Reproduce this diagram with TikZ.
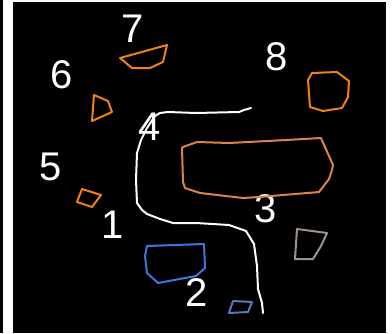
\documentclass[tikz,border=0pt]{standalone}
\usepackage{fontspec}
\setmainfont{Liberation Sans}
\definecolor{brorange}{HTML}{F0820F}
\definecolor{rectorange}{HTML}{D9854A}
\definecolor{bblue}{HTML}{3A78E0}
\definecolor{sblue}{HTML}{5A78C0}
\definecolor{sgray}{HTML}{A09088}
\begin{document}
\begin{tikzpicture}[x=1pt,y=-1pt,
  lbl/.style={text=white,font=\fontsize{40}{40}\selectfont,inner sep=0pt},
  shp/.style={line width=2pt,line join=round}]
\useasboundingbox (0,0) rectangle (392,333);
\fill[white] (0,0) rectangle (392,333);
\fill[black] (13,2) rectangle (386,333);
\fill[black] (0,0) rectangle (3,333);
% labels
\node[lbl] (n7) at (133,29) {7};
\node[lbl] (n6) at (62,75) {6};
\node[lbl] (n8) at (277,57) {8};
\node[lbl] (n4) at (150,127) {4};
\node[lbl] (n5) at (51,167) {5};
\node[lbl] (n1) at (113,225) {1};
\node[lbl] (n3) at (266,209) {3};
\node[lbl] (n2) at (197,293) {2};
% road
\draw[shp,white,line cap=round] (251,108) -- (244,110) -- (239,112) -- (196,113) -- (168,112) -- (160,113) -- (155,116) -- (147,128) -- (141,140) -- (137,153) -- (136,180) -- (137,203) -- (142,210) -- (147,214) -- (160,219) -- (173,223) -- (196,223) -- (229,225) -- (246,231) -- (254,244) -- (257,266) -- (258,289) -- (262,303) -- (263,313);
% shapes
\draw[shp,brorange] (120,58) -- (167,45) -- (163,62) -- (150,68) -- (132,68) -- cycle;
\draw[shp,brorange] (94,95) -- (108,101) -- (112,112) -- (92,121) -- cycle;
\draw[shp,brorange] (82,189) -- (101,195) -- (92,207) -- (77,202) -- cycle;
\draw[shp,brorange] (312,73) -- (337,72) -- (349,81) -- (348,97) -- (342,108) -- (323,111) -- (310,107) -- (308,80) -- cycle;
\draw[shp,rectorange] (183,147) -- (197,142) -- (229,143) -- (286,140) -- (321,138) -- (333,165) -- (332,170) -- (329,179) -- (319,192) -- (259,197) -- (243,198) -- (200,193) -- (185,188) -- (183,182) -- (182,148) -- cycle;
\draw[shp,bblue] (147,246) -- (204,244) -- (205,268) -- (196,276) -- (158,283) -- (147,273) -- (145,256) -- cycle;
\draw[shp,sblue] (233,301) -- (252,302) -- (248,312) -- (229,313) -- cycle;
\draw[shp,sgray] (297,229) -- (327,233) -- (321,246) -- (313,259) -- (295,259) -- cycle;
\end{tikzpicture}
\end{document}
